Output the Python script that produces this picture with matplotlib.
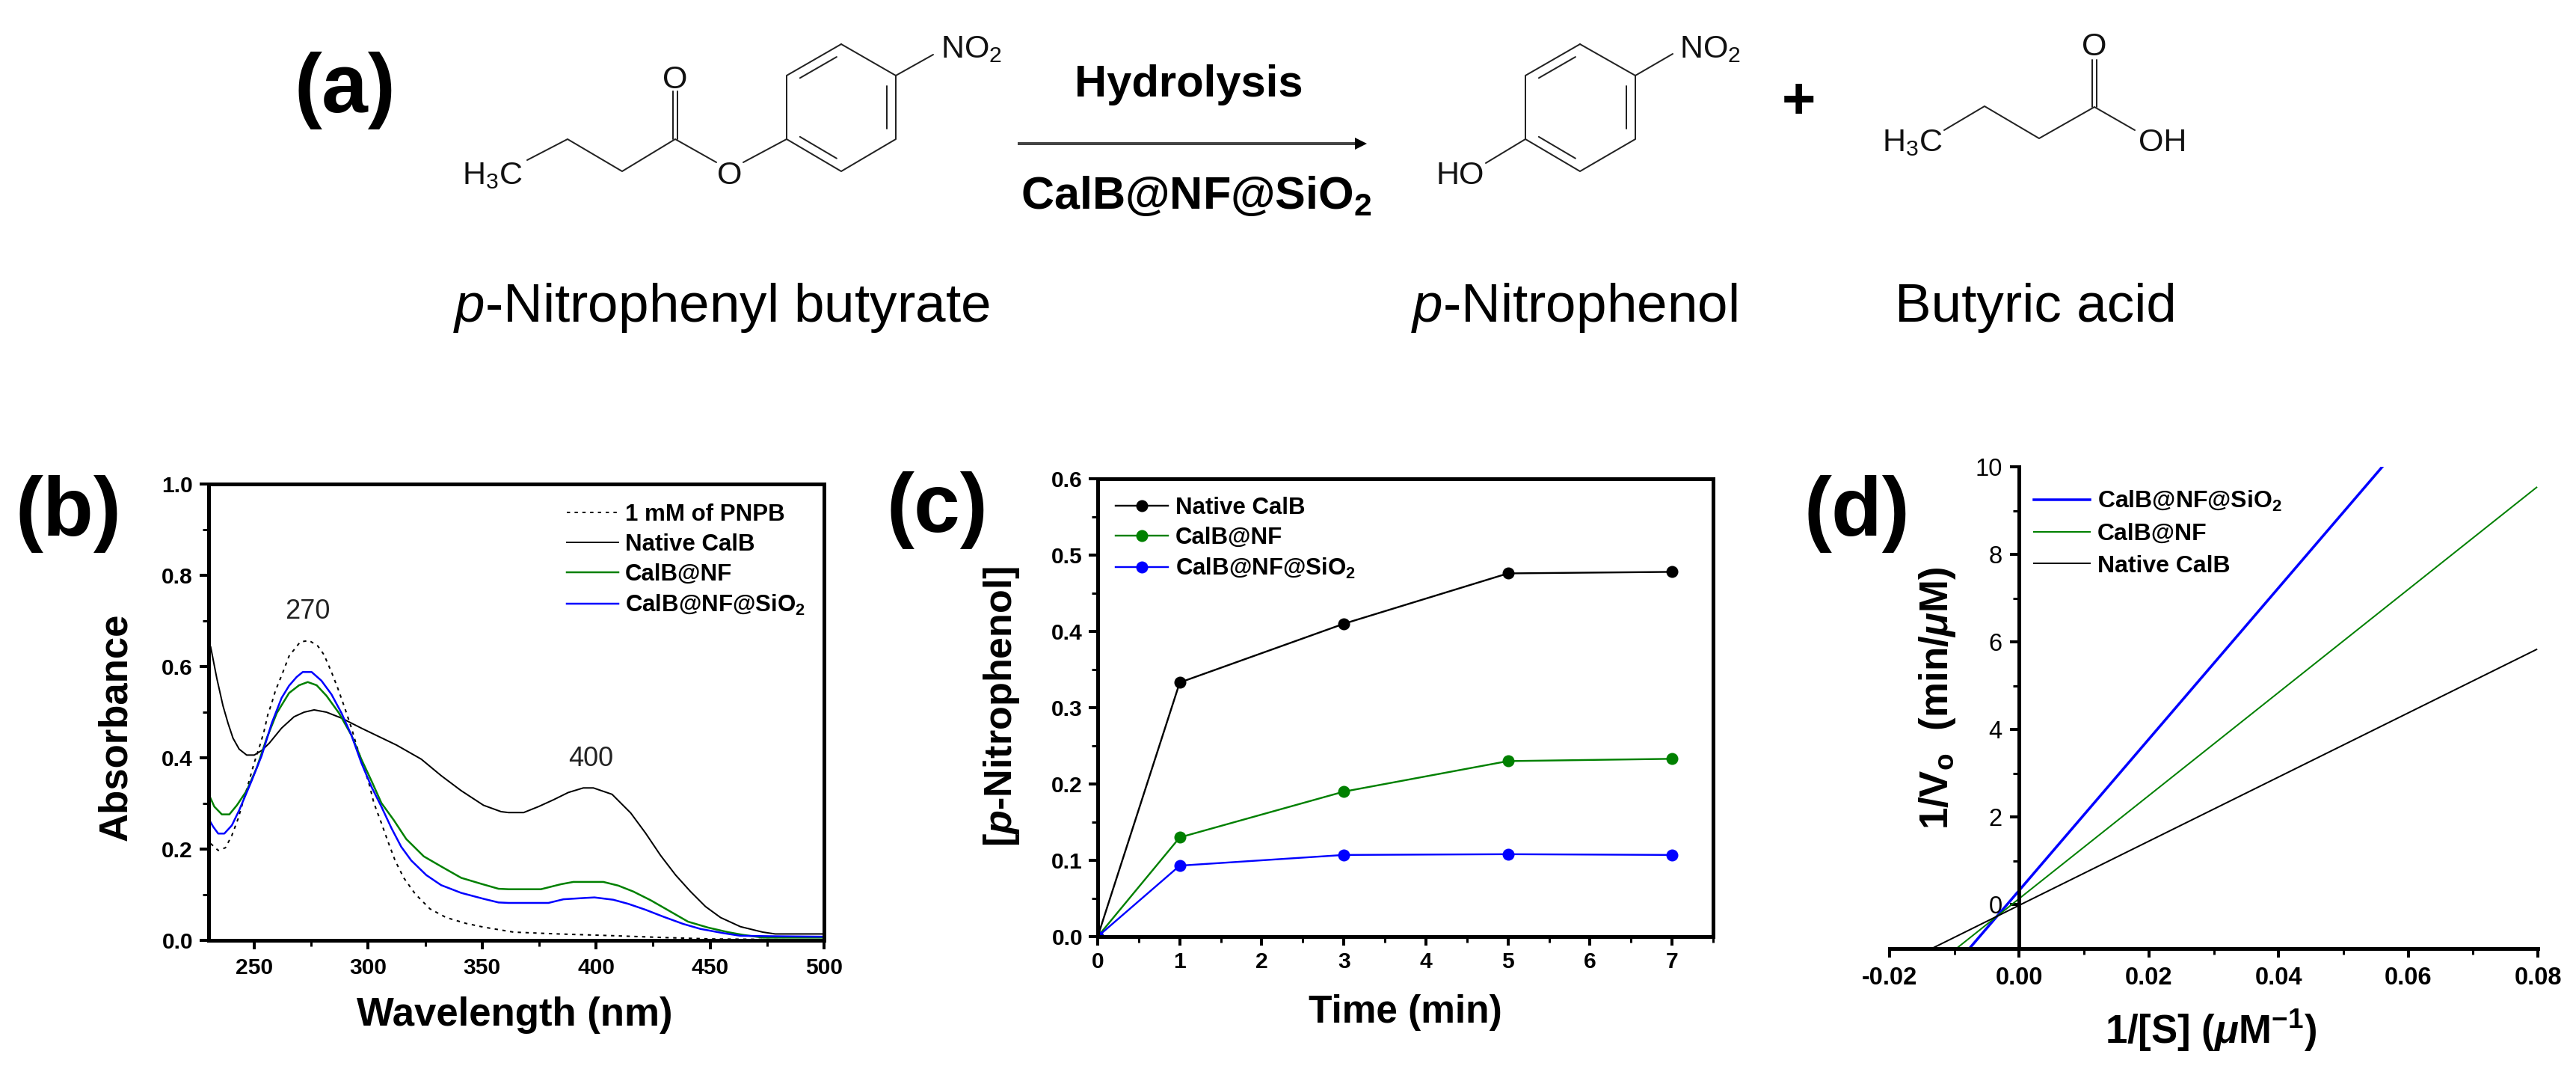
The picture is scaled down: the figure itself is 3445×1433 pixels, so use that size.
import matplotlib
matplotlib.use("Agg")
import matplotlib.pyplot as plt
from matplotlib.ticker import FixedLocator, FormatStrFormatter

W, H = 3445, 1433
PT = 72 / 100  # one pixel in points at dpi 100

plt.rcParams.update({
    "font.family": ["Liberation Sans", "DejaVu Sans"],
    "mathtext.fontset": "custom",
    "mathtext.rm": "Liberation Sans",
    "mathtext.it": "Liberation Sans:italic",
    "mathtext.bf": "Liberation Sans:bold",
    "mathtext.bfit": "Liberation Sans:italic:bold",
    "mathtext.default": "regular",
    "axes.unicode_minus": False,
})

BLACK, GREEN, BLUE = "#000000", "#008000", "#0000ff"

# ---------- (b) absorbance spectra ----------
pnpb_wl = [230.9, 234.2, 237.4, 240.2, 242.9, 245.6, 247.8, 250, 252.8, 254.4, 256, 257.7, 259.3, 262, 265.3,
           270.2, 274.1, 277.9, 280.6, 283.9, 286.7, 289.4, 292.7, 294.9, 300.3, 302.5, 305.8, 308.5, 311.8,
           315.6, 320.6, 327.1, 334.2, 343, 350.6, 363.8, 383.5, 408.6, 430.5, 451.3, 500]
pnpb_abs = [.212, .197, .203, .23, .266, .312, .35, .389, .432, .46, .495, .52, .547, .58, .623,
            .654, .657, .645, .626, .588, .552, .514, .465, .427, .345, .301, .257, .219, .175,
            .137, .102, .069, .05, .037, .029, .018, .014, .01, .006, .003, .001]
native_wl = [230.9, 233.6, 236.3, 238.5, 240.7, 243.4, 246.7, 250, 253.3, 256.6, 262, 267.5, 271.9, 276.3, 281.7,
             288.3, 297, 312.4, 323.3, 332, 340.8, 350.6, 358.3, 361.6, 368.2, 374.7, 381.3, 387.8, 394.4, 398.8,
             407, 415.2, 421.7, 428.3, 434.9, 441.4, 448, 454.6, 463.3, 473.1, 478.6, 500]
native_abs = [.643, .574, .514, .476, .443, .419, .406, .406, .416, .432, .465, .49, .50, .505, .50,
              .487, .465, .428, .397, .361, .328, .296, .282, .28, .28, .293, .308, .324, .334, .334,
              .32, .279, .235, .186, .143, .107, .074, .05, .03, .018, .014, .014]
nf_wl = [229.8, 232.5, 235.8, 239.1, 242.4, 246.7, 251.1, 255.5, 259.9, 265.3, 269.7, 273.5, 277.4, 281.7,
         287.2, 292.7, 297, 301.4, 305.8, 311.3, 316.7, 324.4, 332, 340.8, 349.5, 357.2, 361.6, 375.8, 384.6, 390,
         403.2, 409.7, 416.3, 423.9, 431.6, 440.3, 449.1, 457.8, 464.4, 473.2, 500]
nf_abs = [.323, .293, .276, .276, .296, .328, .378, .443, .498, .542, .559, .566, .559, .536,
          .498, .449, .397, .35, .301, .263, .222, .184, .162, .137, .124, .113, .112, .112, .123, .128,
          .128, .12, .107, .088, .066, .041, .028, .018, .012, .006, .006]
si_wl = [229.8, 232, 234.2, 236.9, 240.2, 243.4, 248.9, 253.3, 257.7, 262, 265.3, 268.6, 271.3, 275.2, 279.5,
         283.9, 288.3, 292.7, 297, 301.4, 305.8, 310.2, 314.5, 318.9, 325.5, 332, 340.8, 350.6, 357.2, 361.6, 379.1,
         385.7, 395.5, 399.3, 407.5, 414.1, 421.7, 429.4, 438.2, 445.8, 455.6, 463.3, 477.5, 500]
si_abs = [.268, .249, .234, .234, .252, .285, .35, .405, .476, .531, .558, .577, .588, .588, .569,
          .539, .498, .449, .389, .337, .293, .246, .205, .175, .143, .121, .104, .091, .083, .082, .082,
          .09, .093, .094, .089, .08, .067, .052, .036, .025, .016, .01, .009, .008]
b_peaks = [(273.3, .72, "270"), (397.6, .398, "400")]
b_xticks = [250, 300, 350, 400, 450, 500]
b_xminor = [275, 325, 375, 425, 475]
b_yticks = [0, .2, .4, .6, .8, 1.0]
b_yminor = [.1, .3, .5, .7, .9]

# ---------- (c) time course ----------
time_min = [0, 1, 3, 5, 7]
c_native = [0, .333, .41, .476, .478]
c_nf = [0, .13, .19, .23, .233]
c_si = [0, .093, .107, .108, .107]
c_xticks = [0, 1, 2, 3, 4, 5, 6, 7]
c_xminor = [.5, 1.5, 2.5, 3.5, 4.5, 5.5, 6.5, 7.5]
c_yticks = [0, .1, .2, .3, .4, .5, .6]
c_yminor = [.05, .15, .25, .35, .45, .55]

# ---------- (d) Lineweaver-Burk ----------
d_si_x, d_si_y = [-.0077, .056], [-1, 10]
d_nf_x, d_nf_y = [-.0097, .0798], [-1, 9.53]
d_nat_x, d_nat_y = [-.0135, .0798], [-1, 5.83]
d_xticks = [-.02, 0, .02, .04, .06, .08]
d_xminor = [-.01, .01, .03, .05, .07]
d_yticks = [0, 2, 4, 6, 8, 10]
d_yminor = [1, 3, 5, 7, 9]

# ---------- (a) scheme geometry (pixels of the canvas) ----------
ring1 = [(1125, 59), (1198, 101), (1198, 186), (1125, 229), (1052, 186), (1052, 101)]
ring2 = [(2113, 59), (2187, 101), (2187, 186), (2113, 229), (2040, 186), (2040, 101)]
ring_doubles = [(5, 0), (1, 2), (3, 4)]
bonds1 = [[(1198, 101), (1248, 73)], [(1052, 186), (994, 217)], [(958, 217), (903, 186), (832, 229), (759, 186), (705, 214)]]
bonds2 = [[(2187, 101), (2237, 72)], [(2040, 186), (1987, 218)]]
bonds3 = [[(2600, 174), (2654, 142), (2727, 185), (2801, 143), (2855, 174)]]
carbonyls = [(903, 186, 122), (2801, 143, 80)]
arrow_x = [1361, 1815]
arrow_y = 192


def axpx(l, r, t, b):
    return fig.add_axes([l / W, 1 - b / H, (r - l) / W, (b - t) / H])


def style(ax, xt, xm, yt, ym, fmtx, fmty, padx, pady, fs=21.6):
    ax.xaxis.set_major_locator(FixedLocator(xt))
    ax.xaxis.set_minor_locator(FixedLocator(xm))
    ax.yaxis.set_major_locator(FixedLocator(yt))
    ax.yaxis.set_minor_locator(FixedLocator(ym))
    ax.xaxis.set_major_formatter(FormatStrFormatter(fmtx))
    ax.yaxis.set_major_formatter(FormatStrFormatter(fmty))
    ax.tick_params(axis="x", which="major", direction="out", length=12 * PT, width=4 * PT, pad=padx * PT, labelsize=fs)
    ax.tick_params(axis="y", which="major", direction="out", length=12 * PT, width=4 * PT, pad=pady * PT, labelsize=fs)
    ax.tick_params(which="minor", direction="out", length=8 * PT, width=3 * PT)
    for lab in ax.get_xticklabels() + ax.get_yticklabels():
        lab.set_fontweight("bold")
    for s in ax.spines.values():
        s.set_linewidth(5 * PT)
    ax.patch.set_alpha(0)


def legend(ax, x, y, fs, handle, spacing=0.32):
    ax.legend(loc="upper left", bbox_to_anchor=(x, y), bbox_transform=ov.transData, frameon=False,
              borderpad=0, borderaxespad=0, prop={"weight": "bold", "size": fs}, handlelength=handle,
              handletextpad=0.3, labelspacing=spacing)


fig = plt.figure(figsize=(W / 100, H / 100), dpi=100, facecolor="white")

# overlay in pixel coordinates for the scheme and the panel letters
ov = fig.add_axes([0, 0, 1, 1])
ov.set_xlim(0, W)
ov.set_ylim(H, 0)
ov.axis("off")

BOND = dict(color="#222222", lw=2 * PT, solid_capstyle="round")
for ring in (ring1, ring2):
    xs, ys = zip(*(ring + ring[:1]))
    ov.plot(xs, ys, **BOND)
    cx, cy = sum(p[0] for p in ring) / 6, sum(p[1] for p in ring) / 6
    for i, j in ring_doubles:
        a, b = ring[i], ring[j]
        ia = (a[0] + (cx - a[0]) * .16, a[1] + (cy - a[1]) * .16)
        ib = (b[0] + (cx - b[0]) * .16, b[1] + (cy - b[1]) * .16)
        ov.plot([ia[0] + (ib[0] - ia[0]) * .1, ib[0] - (ib[0] - ia[0]) * .1],
                [ia[1] + (ib[1] - ia[1]) * .1, ib[1] - (ib[1] - ia[1]) * .1], **BOND)
for group in (bonds1, bonds2, bonds3):
    for path in group:
        xs, ys = zip(*path)
        ov.plot(xs, ys, **BOND)
for x, y0, y1 in carbonyls:
    ov.plot([x - 3, x - 3], [y0, y1], **BOND)
    ov.plot([x + 3, x + 3], [y0, y1], **BOND)

ov.plot(arrow_x, [arrow_y, arrow_y], color="#444444", lw=4 * PT, solid_capstyle="butt")
ov.plot([arrow_x[1] + 5], [arrow_y], marker=">", ms=16 * PT, color="black", mew=0)


def T(x, y, s, fs, ha="center", va="center", weight="normal", **kw):
    ov.text(x, y, s, fontsize=fs, ha=ha, va=va, fontweight=weight, color=kw.pop("color", "black"), **kw)


for x, y, s, ha in [(1258, 77, r"$NO_2$", "left"), (2246, 77, r"$NO_2$", "left"),
                    (618, 246, r"$H_3C$", "left"), (2517, 202, r"$H_3C$", "left"),
                    (1920, 246, "HO", "left"), (2860, 202, "OH", "left")]:
    T(x, y, s, 31, ha=ha, va="baseline", color="#111111")
for x, y, s in [(903, 118, "O"), (976, 246, "O"), (2801, 74, "O")]:
    T(x, y, s, 31, va="baseline", color="#111111")

T(1590, 129, "Hydrolysis", 43, va="baseline", weight="bold")
T(1600, 279, r"$\mathbf{CalB@NF@SiO_2}$", 44, va="baseline", weight="bold")
T(2405, 137, "+", 56, weight="bold")
T(606, 430, r"$\mathit{p}$-Nitrophenyl butyrate", 52.5, ha="left", va="baseline")
T(1887, 430, r"$\mathit{p}$-Nitrophenol", 52.5, ha="left", va="baseline")
T(2534, 430, "Butyric acid", 52.5, ha="left", va="baseline")
for x, y, s in [(461, 121, "(a)"), (91, 687, "(b)"), (1253, 682, "(c)"), (2483, 687, "(d)")]:
    T(x, y, s, 80, weight="bold")

# ---------- panel b ----------
axb = axpx(279, 1102, 647, 1257)
axb.plot(pnpb_wl, pnpb_abs, color=BLACK, lw=2 * PT, ls=(0, (2.2, 3)), label="1 mM of PNPB")
axb.plot(native_wl, native_abs, color=BLACK, lw=2 * PT, label="Native CalB")
axb.plot(nf_wl, nf_abs, color=GREEN, lw=2.5 * PT, label="CalB@NF")
axb.plot(si_wl, si_abs, color=BLUE, lw=2.5 * PT, label=r"CalB@NF@$\mathbf{SiO_2}$")
axb.set_xlim(230, 500)
axb.set_ylim(0, 1)
style(axb, b_xticks, b_xminor, b_yticks, b_yminor, "%d", "%.1f", 11, 9)
for x, y, s in b_peaks:
    axb.text(x, y, s, fontsize=26, ha="center", va="center", color="#222222")
legend(axb, 758, 673, 22.5, 2.2)
T(688, 1357, "Wavelength (nm)", 38, weight="bold")
T(155, 972, "Absorbance", 38, weight="bold", rotation=90)

# ---------- panel c ----------
axc = axpx(1468, 2291, 640, 1252)
for vals, col, lab in [(c_native, BLACK, "Native CalB"), (c_nf, GREEN, "CalB@NF"),
                       (c_si, BLUE, r"CalB@NF@$\mathbf{SiO_2}$")]:
    axc.plot(time_min, vals, color=col, lw=2.4 * PT, marker="o", ms=16 * PT, mew=0, label=lab)
axc.set_xlim(0, 7.5)
axc.set_ylim(0, .6)
style(axc, c_xticks, c_xminor, c_yticks, c_yminor, "%d", "%.1f", 8, 8)
legend(axc, 1492, 664, 22.5, 2.25)
T(1879, 1354, "Time (min)", 37, weight="bold")
T(1340, 944, r"[$\mathbfit{p}$-Nitrophenol]", 37.5, weight="bold", rotation=90)

# ---------- panel d ----------
axd = axpx(2527, 3394, 624, 1268)
axd.plot(d_si_x, d_si_y, color=BLUE, lw=3.5 * PT, label=r"CalB@NF@$\mathbf{SiO_2}$")
axd.plot(d_nf_x, d_nf_y, color=GREEN, lw=2 * PT, label="CalB@NF")
axd.plot(d_nat_x, d_nat_y, color=BLACK, lw=2 * PT, label="Native CalB")
axd.set_xlim(-.02, .08)
axd.set_ylim(-1, 10)
style(axd, d_xticks, d_xminor, d_yticks, d_yminor, "%.2f", "%d", 12, 11, fs=23.5)
axd.spines["top"].set_visible(False)
axd.spines["right"].set_visible(False)
axd.spines["left"].set_position(("data", 0))
legend(axd, 2720, 654, 23, 2.35, spacing=0.4)
T(2957, 1378, r"$\mathbf{1/[S]\ (}\mathbfit{\mu}\mathbf{M^{-1})}$", 38, weight="bold")
T(2591, 933, r"$\mathbf{1/V_o\ \ (min/}\mathbfit{\mu}\mathbf{M)}$", 38, weight="bold", rotation=90)

fig.savefig("out.png", dpi=100, facecolor="white")
